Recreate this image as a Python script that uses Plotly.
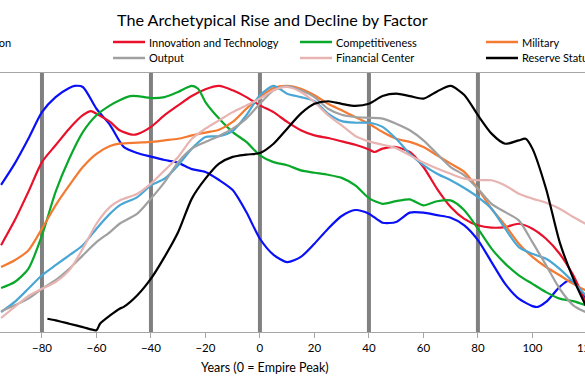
import plotly.graph_objects as go

# ---------------- data ----------------
years_common = [-95, -90, -85, -80, -75, -70, -65, -60, -55, -51.5, -45, -40, -35, -30, -25, -20,
                -15, -10, -5, 0, 5, 10, 15, 20, 25, 30, 35, 40, 45, 50, 55, 60, 65, 70, 75, 80,
                85, 90, 95, 100, 105, 110, 115, 119.5]

education_x = [-95, -90, -85, -80, -75, -70, -68, -65, -60, -55, -50, -45, -40, -35, -30, -25, -20,
               -15, -10, -5, 0, 5, 10, 15, 20, 25, 30, 35, 40, 45, 50, 55, 60, 65, 70, 75, 80,
               85, 90, 95, 100, 102, 105, 110, 113, 116, 119.5]
education = [56.8, 65.0, 74.6, 84.9, 90.7, 94.2, 95.0, 94.6, 86.2, 79.9, 71.5, 69.1, 67.7, 66.4,
             65.3, 62.9, 61.8, 58.7, 54.8, 46.3, 36.0, 29.8, 27.0, 29.0, 34.1, 39.9, 44.8, 47.1,
             45.7, 42.2, 42.5, 46.1, 46.1, 45.1, 44.1, 41.2, 35.5, 27.0, 18.6, 12.9, 10.0, 9.7,
             11.6, 17.4, 19.7, 18.5, 12.9]

innovation_x = [-95, -90, -85, -80, -75, -70, -65, -62, -60, -55, -51.5, -47, -45, -40, -35, -30,
                -25, -20, -15, -10, -5, 0, 5, 10, 15, 20, 25, 30, 35, 40, 42, 45, 50, 55, 60, 65,
                70, 75, 80, 85, 90, 95, 100, 105, 110, 115, 119.5]
innovation = [33.5, 43.1, 54.1, 65.6, 72.1, 78.5, 83.7, 85.3, 84.3, 81.1, 77.9, 76.2, 76.4, 79.2,
              83.7, 87.5, 91.1, 93.7, 95.0, 93.3, 90.7, 87.5, 84.9, 81.1, 77.9, 75.9, 74.9, 73.6,
              72.3, 70.5, 69.5, 70.8, 71.4, 69.5, 63.7, 55.3, 48.3, 43.7, 41.2, 40.3, 40.5, 41.8,
              39.9, 36.0, 30.2, 21.9, 11.6]

competitiveness_x = [-95, -90, -85, -80, -75, -70, -65, -60, -55, -51.5, -47.7, -45, -40, -35, -30,
                     -25, -22.7, -20, -15, -10, -5, 0, 5, 10, 15, 20, 25, 30, 35, 40, 45, 50, 55,
                     60, 65, 70, 75, 80, 85, 90, 95, 100, 105, 110, 115, 119.5]
competitiveness = [17.0, 19.3, 24.4, 37.3, 54.1, 66.9, 77.2, 83.7, 87.5, 89.5, 91.1, 91.1, 90.3,
                   90.7, 92.7, 95.0, 93.9, 88.8, 82.4, 77.2, 73.4, 68.2, 65.6, 64.4, 62.4, 61.5,
                   60.7, 59.5, 56.6, 51.7, 49.5, 50.5, 51.2, 48.9, 50.5, 50.8, 47.0, 39.9, 32.2,
                   26.4, 21.9, 18.6, 15.4, 12.9, 11.9, 10.3]

military = [25.1, 27.7, 31.5, 39.9, 48.9, 56.6, 63.7, 68.8, 71.8, 72.7, 73.1, 73.4, 74.0, 74.6,
            75.9, 77.0, 78.1, 81.1, 86.2, 90.7, 94.2, 95.0, 93.9, 91.4, 88.1, 85.6, 83.0, 80.4,
            77.2, 74.6, 73.4, 71.4, 68.2, 65.0, 61.8, 55.3, 47.6, 41.2, 34.1, 29.0, 25.1, 21.9,
            18.6, 16.1]

trade = [7.7, 11.6, 16.7, 21.9, 25.8, 29.6, 33.5, 39.9, 45.7, 48.9, 52.1, 56.6, 59.2, 64.4, 70.8,
         75.3, 75.6, 77.6, 83.7, 91.4, 95.0, 92.0, 90.7, 89.1, 84.3, 81.4, 80.8, 80.8, 79.2, 74.6,
         68.8, 64.4, 61.1, 58.6, 55.6, 52.1, 47.6, 39.9, 32.8, 30.2, 28.3, 24.4, 19.3, 14.2]

output = [8.0, 10.3, 12.9, 16.7, 20.0, 24.4, 29.6, 34.7, 38.6, 41.8, 45.7, 51.5, 57.9, 65.6, 70.8,
          73.4, 75.7, 78.5, 82.4, 88.1, 93.3, 94.9, 93.3, 90.7, 86.2, 83.9, 83.0, 82.7, 82.4, 80.4,
          77.9, 74.0, 68.8, 63.7, 60.5, 55.3, 49.5, 46.3, 43.1, 34.7, 25.8, 16.7, 10.3, 7.7]

financial_center = [5.4, 9.7, 13.9, 16.7, 19.3, 23.8, 32.2, 41.8, 48.3, 50.8, 53.4, 57.3, 62.4,
                    67.6, 74.6, 78.5, 81.7, 84.9, 87.5, 90.1, 93.3, 94.6, 92.7, 88.8, 83.7, 79.8,
                    75.7, 73.6, 72.3, 71.0, 68.2, 65.4, 63.1, 61.1, 59.2, 58.6, 58.6, 56.6, 53.4,
                    51.5, 49.9, 47.6, 44.4, 41.8]

reserve_x = [-78, -75, -70, -65, -60, -58.7, -55, -51.5, -50, -45, -40, -35, -30, -25, -20, -15,
             -10, -5, 0, 5, 10, 15, 20, 25, 30, 35, 40, 45, 50, 55, 60, 65, 70, 75, 80, 85, 90,
             95, 97.5, 100, 105, 110, 115, 119.5]
reserve_status = [5.1, 4.5, 3.2, 1.9, 0.7, 3.2, 6.4, 9.0, 9.7, 14.2, 20.6, 29.0, 38.6, 51.5, 59.2,
                  65.0, 67.6, 68.5, 69.1, 72.7, 78.5, 84.3, 88.1, 89.1, 88.1, 87.3, 88.1, 91.1,
                  92.0, 91.1, 90.1, 92.9, 95.0, 91.5, 83.7, 76.6, 72.7, 74.0, 74.6, 70.8, 55.3,
                  34.7, 20.6, 10.3]

phase_markers = [-80, -40, 0, 40, 80]
tick_values = [-100, -80, -60, -40, -20, 0, 20, 40, 60, 80, 100, 120]

series = [
    ("Education", education_x, education, "#0a10f5"),
    ("Innovation and Technology", innovation_x, innovation, "#e8102a"),
    ("Competitiveness", competitiveness_x, competitiveness, "#0aa82a"),
    ("Military", years_common, military, "#f47a32"),
    ("Trade", years_common, trade, "#4aa6d4"),
    ("Output", years_common, output, "#a0a0a0"),
    ("Financial Center", years_common, financial_center, "#e8b4b2"),
    ("Reserve Status", reserve_x, reserve_status, "#000000"),
]

FONT = "Lato"
W, H = 585, 386
TOP, BOTTOM = 73, 332


def px_x(px):
    return px / W


def px_y(py):
    return (BOTTOM - py) / (BOTTOM - TOP)


fig = go.Figure()

for m in phase_markers:
    fig.add_trace(go.Scatter(x=[m, m], y=[0, 100], mode="lines",
                             line=dict(color="#808080", width=4), showlegend=False,
                             hoverinfo="skip"))

for name, xs, ys, color in series:
    fig.add_trace(go.Scatter(x=xs, y=ys, mode="lines", name=name,
                             line=dict(color=color, width=2.2, shape="spline", smoothing=0.7),
                             showlegend=False))

# manual legend (chart is wider than the window, so it is cropped at both sides)
legend_cols = [-73.5, 113, 300, 486]
legend_rows = [42, 58]
for i, (name, _, _, color) in enumerate(series):
    col = i % 4
    row = i // 4
    x0 = legend_cols[col]
    yy = legend_rows[row]
    fig.add_shape(type="line", xref="paper", yref="paper",
                  x0=px_x(x0), x1=px_x(x0 + 32), y0=px_y(yy), y1=px_y(yy),
                  line=dict(color=color, width=2.5))
    fig.add_annotation(text=name, xref="paper", yref="paper", x=px_x(x0 + 34), y=px_y(yy),
                       xanchor="left", yanchor="middle", showarrow=False,
                       font=dict(family=FONT, size=11, color="#000000"))

fig.add_annotation(text="The Archetypical Rise and Decline by Factor", xref="paper", yref="paper",
                   x=px_x(272), y=px_y(20), xanchor="center", yanchor="middle", showarrow=False,
                   font=dict(family=FONT, size=16.2, color="#000000"))
fig.add_annotation(text="Years (0 = Empire Peak)", xref="paper", yref="paper",
                   x=px_x(265), y=px_y(367), xanchor="center", yanchor="middle", showarrow=False,
                   font=dict(family=FONT, size=12.5, color="#000000"))
# partially visible last tick label
fig.add_annotation(text="120", xref="paper", yref="paper",
                   x=px_x(587), y=px_y(347), xanchor="center", yanchor="middle", showarrow=False,
                   font=dict(family=FONT, size=11.5, color="#000000"))

fig.update_layout(
    width=W, height=H,
    margin=dict(l=0, r=0, t=TOP, b=H - BOTTOM, pad=0),
    paper_bgcolor="white", plot_bgcolor="white",
    showlegend=False,
    xaxis=dict(range=[-95.4, 119.3], tickvals=tick_values, ticks="outside", ticklen=5,
               tickcolor="#a6a6a6", showline=True, linecolor="#a6a6a6", linewidth=1.3,
               mirror=True, showgrid=False, zeroline=False,
               tickfont=dict(family=FONT, size=11.5, color="#000000")),
    yaxis=dict(range=[0, 100], showticklabels=False, showgrid=False, zeroline=False,
               showline=False, ticks=""),
)

fig.write_html("out.html", config={"displayModeBar": False},
               post_script="document.body.style.margin='0px';document.body.style.overflow='hidden';")
